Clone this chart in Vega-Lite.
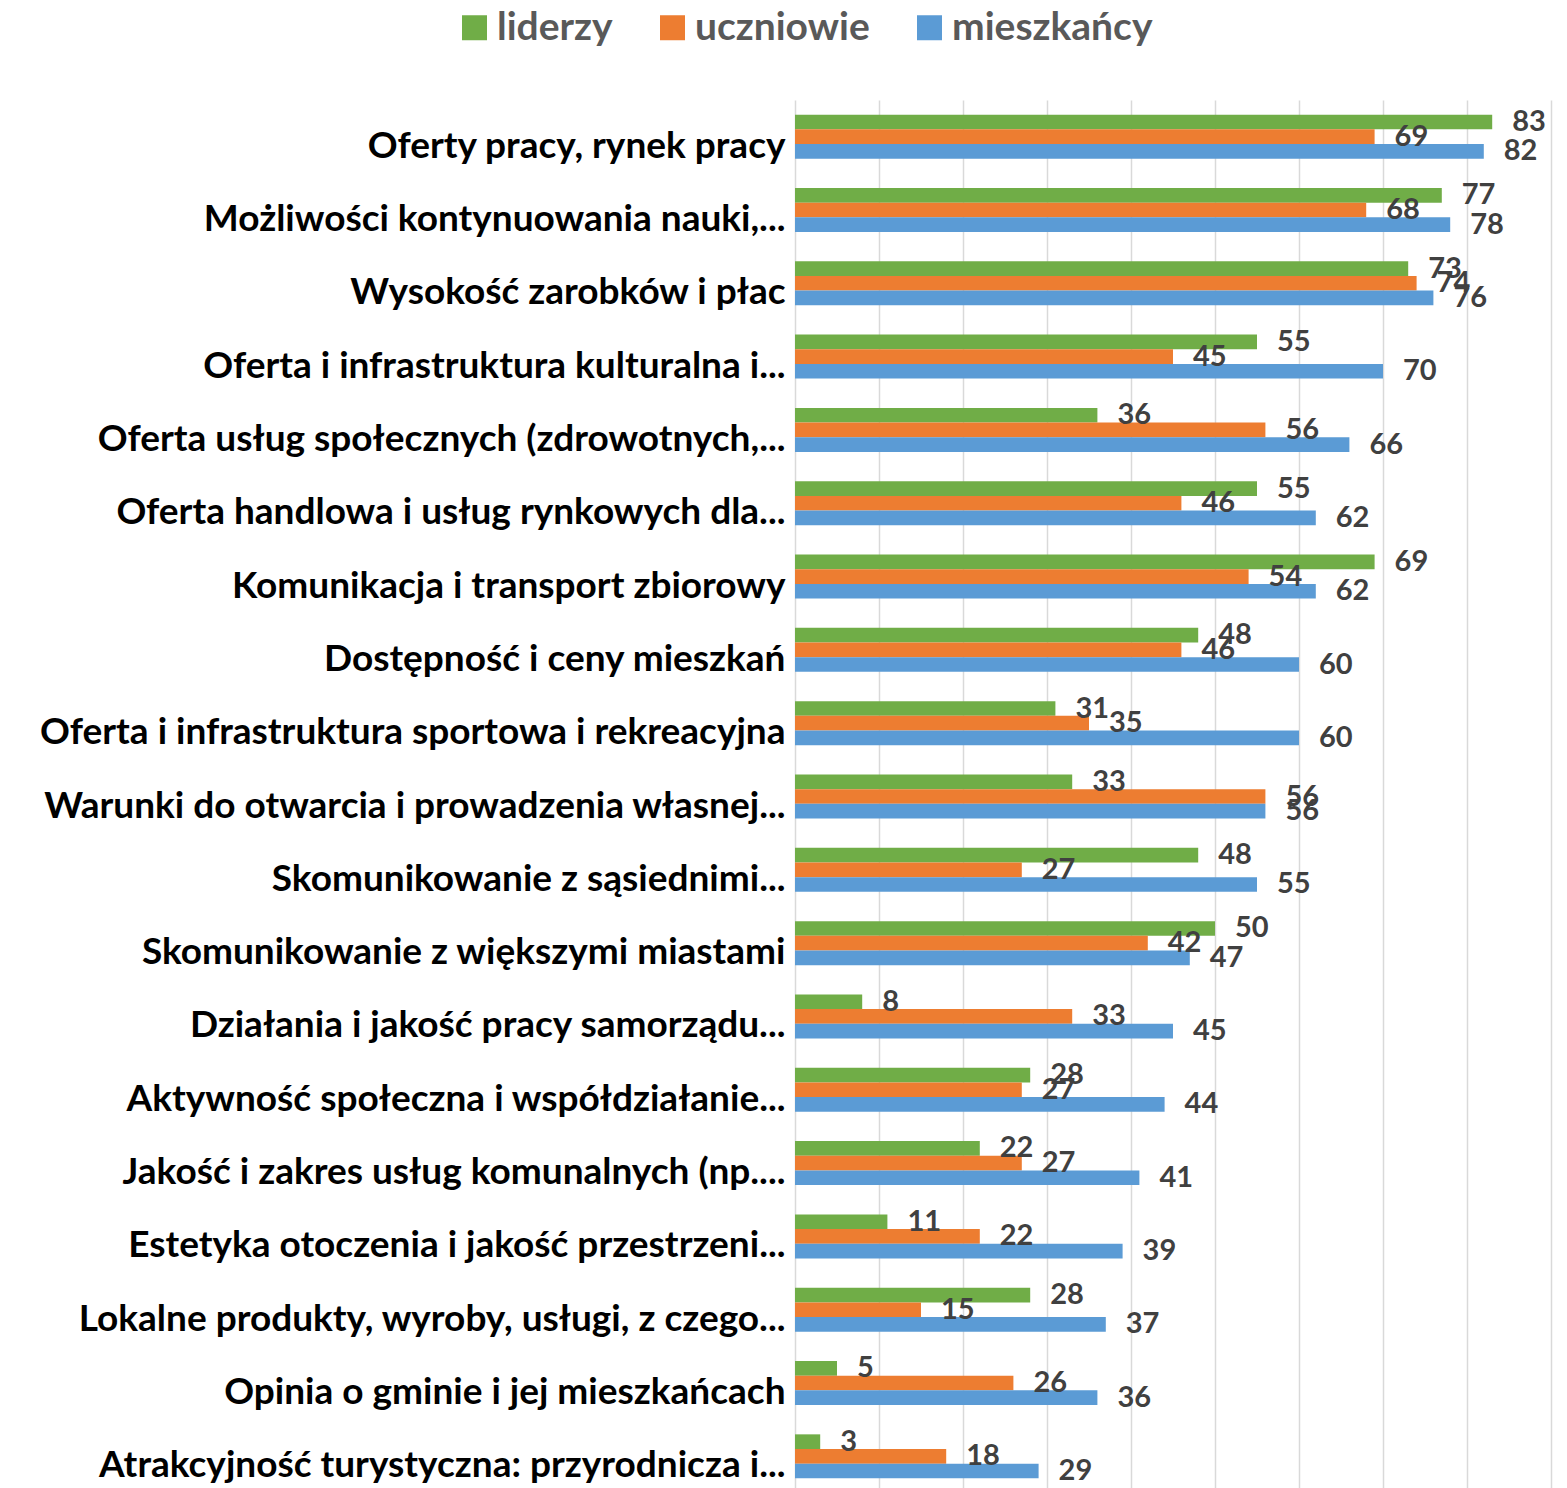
{
  "$schema": "https://vega.github.io/schema/vega-lite/v6.json",
  "autosize": "none",
  "padding": {"left": 795, "top": 100, "right": 16, "bottom": 0},
  "width": 756,
  "height": 1393,
  "background": "white",
  "config": {"view": {"stroke": null}, "font": "Lato", "scale": {"offsetBandPaddingInner": 0}},
  "data": {"values": [
    {"kat": "Oferty pracy, rynek pracy", "grupa": "liderzy", "wartosc": 83},
    {"kat": "Oferty pracy, rynek pracy", "grupa": "uczniowie", "wartosc": 69},
    {"kat": "Oferty pracy, rynek pracy", "grupa": "mieszkańcy", "wartosc": 82},
    {"kat": "Możliwości kontynuowania nauki,...", "grupa": "liderzy", "wartosc": 77},
    {"kat": "Możliwości kontynuowania nauki,...", "grupa": "uczniowie", "wartosc": 68},
    {"kat": "Możliwości kontynuowania nauki,...", "grupa": "mieszkańcy", "wartosc": 78},
    {"kat": "Wysokość zarobków i płac", "grupa": "liderzy", "wartosc": 73},
    {"kat": "Wysokość zarobków i płac", "grupa": "uczniowie", "wartosc": 74},
    {"kat": "Wysokość zarobków i płac", "grupa": "mieszkańcy", "wartosc": 76},
    {"kat": "Oferta i infrastruktura kulturalna i...", "grupa": "liderzy", "wartosc": 55},
    {"kat": "Oferta i infrastruktura kulturalna i...", "grupa": "uczniowie", "wartosc": 45},
    {"kat": "Oferta i infrastruktura kulturalna i...", "grupa": "mieszkańcy", "wartosc": 70},
    {"kat": "Oferta usług społecznych (zdrowotnych,...", "grupa": "liderzy", "wartosc": 36},
    {"kat": "Oferta usług społecznych (zdrowotnych,...", "grupa": "uczniowie", "wartosc": 56},
    {"kat": "Oferta usług społecznych (zdrowotnych,...", "grupa": "mieszkańcy", "wartosc": 66},
    {"kat": "Oferta handlowa i usług rynkowych dla...", "grupa": "liderzy", "wartosc": 55},
    {"kat": "Oferta handlowa i usług rynkowych dla...", "grupa": "uczniowie", "wartosc": 46},
    {"kat": "Oferta handlowa i usług rynkowych dla...", "grupa": "mieszkańcy", "wartosc": 62},
    {"kat": "Komunikacja i transport zbiorowy", "grupa": "liderzy", "wartosc": 69},
    {"kat": "Komunikacja i transport zbiorowy", "grupa": "uczniowie", "wartosc": 54},
    {"kat": "Komunikacja i transport zbiorowy", "grupa": "mieszkańcy", "wartosc": 62},
    {"kat": "Dostępność i ceny mieszkań", "grupa": "liderzy", "wartosc": 48},
    {"kat": "Dostępność i ceny mieszkań", "grupa": "uczniowie", "wartosc": 46},
    {"kat": "Dostępność i ceny mieszkań", "grupa": "mieszkańcy", "wartosc": 60},
    {"kat": "Oferta i infrastruktura sportowa i rekreacyjna", "grupa": "liderzy", "wartosc": 31},
    {"kat": "Oferta i infrastruktura sportowa i rekreacyjna", "grupa": "uczniowie", "wartosc": 35},
    {"kat": "Oferta i infrastruktura sportowa i rekreacyjna", "grupa": "mieszkańcy", "wartosc": 60},
    {"kat": "Warunki do otwarcia i prowadzenia własnej...", "grupa": "liderzy", "wartosc": 33},
    {"kat": "Warunki do otwarcia i prowadzenia własnej...", "grupa": "uczniowie", "wartosc": 56},
    {"kat": "Warunki do otwarcia i prowadzenia własnej...", "grupa": "mieszkańcy", "wartosc": 56},
    {"kat": "Skomunikowanie z sąsiednimi...", "grupa": "liderzy", "wartosc": 48},
    {"kat": "Skomunikowanie z sąsiednimi...", "grupa": "uczniowie", "wartosc": 27},
    {"kat": "Skomunikowanie z sąsiednimi...", "grupa": "mieszkańcy", "wartosc": 55},
    {"kat": "Skomunikowanie z większymi miastami", "grupa": "liderzy", "wartosc": 50},
    {"kat": "Skomunikowanie z większymi miastami", "grupa": "uczniowie", "wartosc": 42},
    {"kat": "Skomunikowanie z większymi miastami", "grupa": "mieszkańcy", "wartosc": 47},
    {"kat": "Działania i jakość pracy samorządu...", "grupa": "liderzy", "wartosc": 8},
    {"kat": "Działania i jakość pracy samorządu...", "grupa": "uczniowie", "wartosc": 33},
    {"kat": "Działania i jakość pracy samorządu...", "grupa": "mieszkańcy", "wartosc": 45},
    {"kat": "Aktywność społeczna i współdziałanie...", "grupa": "liderzy", "wartosc": 28},
    {"kat": "Aktywność społeczna i współdziałanie...", "grupa": "uczniowie", "wartosc": 27},
    {"kat": "Aktywność społeczna i współdziałanie...", "grupa": "mieszkańcy", "wartosc": 44},
    {"kat": "Jakość i zakres usług komunalnych (np....", "grupa": "liderzy", "wartosc": 22},
    {"kat": "Jakość i zakres usług komunalnych (np....", "grupa": "uczniowie", "wartosc": 27},
    {"kat": "Jakość i zakres usług komunalnych (np....", "grupa": "mieszkańcy", "wartosc": 41},
    {"kat": "Estetyka otoczenia i jakość przestrzeni...", "grupa": "liderzy", "wartosc": 11},
    {"kat": "Estetyka otoczenia i jakość przestrzeni...", "grupa": "uczniowie", "wartosc": 22},
    {"kat": "Estetyka otoczenia i jakość przestrzeni...", "grupa": "mieszkańcy", "wartosc": 39},
    {"kat": "Lokalne produkty, wyroby, usługi, z czego...", "grupa": "liderzy", "wartosc": 28},
    {"kat": "Lokalne produkty, wyroby, usługi, z czego...", "grupa": "uczniowie", "wartosc": 15},
    {"kat": "Lokalne produkty, wyroby, usługi, z czego...", "grupa": "mieszkańcy", "wartosc": 37},
    {"kat": "Opinia o gminie i jej mieszkańcach", "grupa": "liderzy", "wartosc": 5},
    {"kat": "Opinia o gminie i jej mieszkańcach", "grupa": "uczniowie", "wartosc": 26},
    {"kat": "Opinia o gminie i jej mieszkańcach", "grupa": "mieszkańcy", "wartosc": 36},
    {"kat": "Atrakcyjność turystyczna: przyrodnicza i...", "grupa": "liderzy", "wartosc": 3},
    {"kat": "Atrakcyjność turystyczna: przyrodnicza i...", "grupa": "uczniowie", "wartosc": 18},
    {"kat": "Atrakcyjność turystyczna: przyrodnicza i...", "grupa": "mieszkańcy", "wartosc": 29}
  ]},
  "encoding": {
    "y": {
      "field": "kat", "type": "nominal", "sort": null,
      "scale": {"paddingInner": 0.4, "paddingOuter": 0.2},
      "axis": {"title": null, "domain": false, "ticks": false, "labelFont": "Lato", "labelFontWeight": "bold", "labelFontSize": 37, "labelColor": "#000000", "labelPadding": 10, "labelLimit": 800, "labelOffset": 10}
    },
    "yOffset": {"field": "grupa", "type": "nominal", "sort": ["liderzy", "uczniowie", "mieszkańcy"]},
    "x": {
      "field": "wartosc", "type": "quantitative",
      "scale": {"domain": [0, 90], "nice": false},
      "axis": {"title": null, "labels": false, "ticks": false, "domain": false, "values": [0, 10, 20, 30, 40, 50, 60, 70, 80, 90], "grid": true, "gridColor": "#d9d9d9", "gridWidth": 1.5}
    }
  },
  "layer": [
    {
      "mark": {"type": "bar"},
      "encoding": {
        "color": {
          "field": "grupa", "type": "nominal",
          "scale": {"domain": ["liderzy", "uczniowie", "mieszkańcy"], "range": ["#70AD47", "#ED7D31", "#5B9BD5"]},
          "legend": {"title": null, "orient": "none", "direction": "horizontal", "legendX": -340, "legendY": -92, "symbolType": "square", "symbolSize": 625, "symbolStrokeWidth": 0, "labelFont": "Lato", "labelFontWeight": "bold", "labelFontSize": 39, "labelColor": "#595959", "labelLimit": 400, "labelOffset": 3, "columnPadding": 40}
        }
      }
    },
    {
      "mark": {"type": "text", "align": "left", "baseline": "middle", "dx": 20, "font": "Lato", "fontWeight": "bold", "fontSize": 29, "color": "#404040"},
      "encoding": {"text": {"field": "wartosc", "type": "quantitative"}}
    }
  ]
}
